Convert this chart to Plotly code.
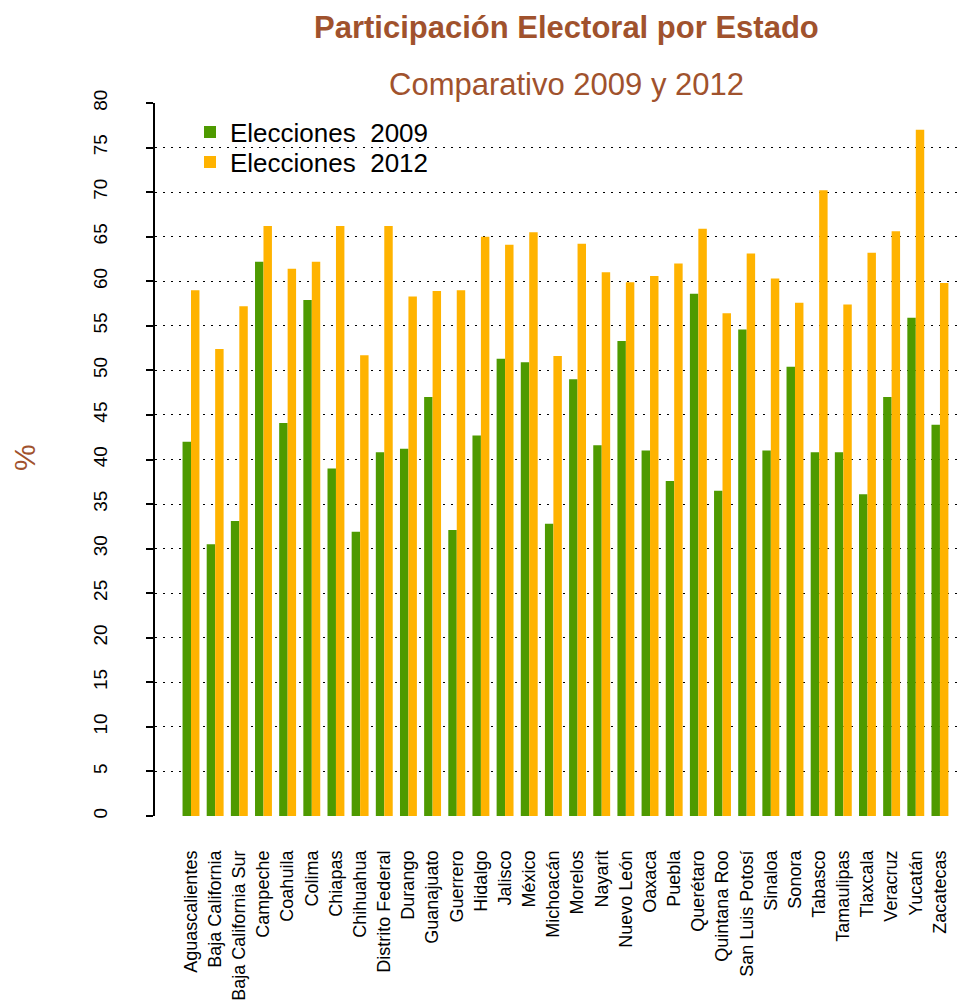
"""Participación electoral por estado, 2009 vs 2012"""
import plotly.graph_objs as go

estados = ['Aguascalientes', 'Baja California', 'Baja California Sur', 'Campeche',
           'Coahuila', 'Colima', 'Chiapas', 'Chihuahua', 'Distrito Federal',
           'Durango', 'Guanajuato', 'Guerrero', 'Hidalgo', 'Jalisco', 'México',
           'Michoacán', 'Morelos', 'Nayarit', 'Nuevo León', 'Oaxaca', 'Puebla',
           'Querétaro', 'Quintana Roo', 'San Luis Potosí', 'Sinaloa', 'Sonora',
           'Tabasco', 'Tamaulipas', 'Tlaxcala', 'Veracruz', 'Yucatán', 'Zacatecas']

part_2009 = [42.0, 30.5, 33.1, 62.2, 44.1, 57.9, 39.0, 31.9, 40.8, 41.2, 47.0,
             32.1, 42.7, 51.3, 50.9, 32.8, 49.0, 41.6, 53.3, 41.0, 37.6, 58.6,
             36.5, 54.6, 41.0, 50.4, 40.8, 40.8, 36.1, 47.0, 55.9, 43.9]

part_2012 = [59.0, 52.4, 57.2, 66.2, 61.4, 62.2, 66.2, 51.7, 66.2, 58.3, 58.9,
             59.0, 65.0, 64.1, 65.5, 51.6, 64.2, 61.0, 59.9, 60.6, 62.0, 65.9,
             56.4, 63.1, 60.3, 57.6, 70.2, 57.4, 63.2, 65.6, 77.0, 59.8]

y_ticks = list(range(0, 81, 5))

verde = '#4E9A00'
naranja = '#FFB300'
siena = '#A0522D'
fuente = 'Liberation Sans, Arial, sans-serif'

# plot area in pixels
L, R, T, B = 155, 6, 103, 187
pw, ph = 966 - L - R, 1003 - T - B


def px(x):
    return (x - L) / pw


def py(y):
    return 1 - (y - T) / ph


trace0 = go.Bar(x=estados, y=part_2009, name='Elecciones  2009', legend='legend',
                marker=dict(color=verde, line=dict(width=0)))
trace1 = go.Bar(x=estados, y=part_2012, name='Elecciones  2012', legend='legend2',
                marker=dict(color=naranja, line=dict(width=0)))

leg = dict(xanchor='left', yanchor='middle', font=dict(size=26),
           bgcolor='rgba(0,0,0,0)', itemwidth=30)

layout = go.Layout(
    width=966, height=1003,
    margin=dict(l=L, r=R, t=T, b=B),
    paper_bgcolor='white', plot_bgcolor='white',
    font=dict(family=fuente, color='black'),
    barmode='group', bargap=0.3, bargroupgap=0,
    showlegend=True,
    legend=dict(leg, x=px(190), y=py(132)),
    legend2=dict(leg, x=px(190), y=py(162)),
    xaxis=dict(range=[-1.49, 31.83], tickangle=-90, tickfont=dict(size=18),
               showline=False, showgrid=False, ticks='', zeroline=False,
               ticklabelstandoff=30, automargin=False),
    yaxis=dict(range=[0, 80], tickvals=y_ticks, tickangle=-90,
               tickfont=dict(size=19), showline=True, linecolor='black',
               linewidth=1.5, ticks='outside', ticklen=7, tickcolor='black',
               tickwidth=1.5, showgrid=True, gridcolor='black', gridwidth=1,
               griddash='2px,6px', zeroline=False, ticklabelstandoff=32,
               automargin=False),
    annotations=[
        dict(text='<b>Participación Electoral por Estado</b>',
             x=px(566), y=py(28), textangle=0, font=dict(size=31)),
        dict(text='Comparativo 2009 y 2012',
             x=px(566), y=py(85), textangle=0, font=dict(size=31)),
        dict(text='%', x=px(24), y=py(458), textangle=-90, font=dict(size=30)),
    ],
)

fig = go.Figure(data=[trace0, trace1], layout=layout)
fig.update_annotations(xref='paper', yref='paper', showarrow=False,
                       xanchor='center', yanchor='middle',
                       font_color=siena, font_family=fuente)

# the page body has a default 8px margin; drop it so the figure fills the window
fig.write_html('out.html', config={'displayModeBar': False},
               post_script="document.body.style.margin='0';")
